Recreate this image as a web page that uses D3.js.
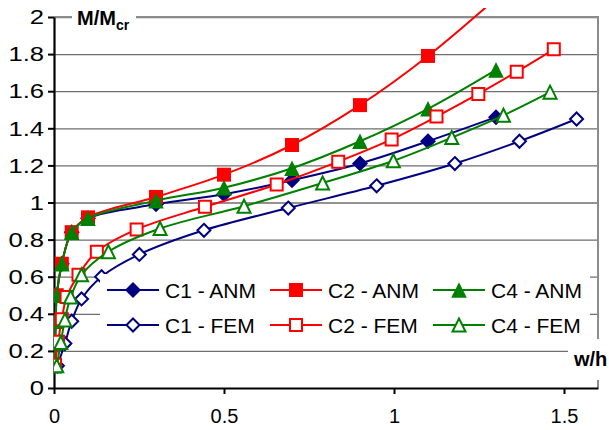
<!DOCTYPE html>
<html>
<head>
<meta charset="utf-8">
<script src="https://cdn.jsdelivr.net/npm/d3@7"></script>
<style>
  body { margin: 0; background: #fff; }
  svg { display: block; font-family: 'Liberation Sans', Arial, sans-serif; }
</style>
</head>
<body>
<svg width="609" height="430"></svg>
<script>
  // values
  var anmX = [0.001, 0.003, 0.005, 0.008, 0.023, 0.052, 0.1, 0.3, 0.5, 0.7, 0.9, 1.1, 1.3];
  var c1AnmY = [0.12, 0.24, 0.36, 0.5, 0.67, 0.84, 0.915, 0.99, 1.045, 1.12, 1.21, 1.33, 1.46];
  var c2AnmY = [0.12, 0.24, 0.36, 0.5, 0.67, 0.84, 0.92, 1.03, 1.15, 1.31, 1.525, 1.79, 2.1];
  var c4AnmY = [0.12, 0.24, 0.36, 0.5, 0.67, 0.84, 0.915, 1.01, 1.08, 1.185, 1.33, 1.505, 1.715];

  var c1FemX = [0.01, 0.032, 0.052, 0.081, 0.14, 0.251, 0.441, 0.689, 0.949, 1.179, 1.369, 1.537];
  var c1FemY = [0.12, 0.24, 0.36, 0.48, 0.6, 0.72, 0.85, 0.97, 1.09, 1.21, 1.33, 1.45];
  var c2FemX = [0.003, 0.012, 0.023, 0.037, 0.072, 0.126, 0.243, 0.444, 0.655, 0.836, 0.993, 1.125, 1.248, 1.361, 1.47];
  var c2FemY = [0.125, 0.25, 0.37, 0.49, 0.61, 0.735, 0.855, 0.977, 1.097, 1.22, 1.34, 1.463, 1.585, 1.705, 1.826];
  var c4FemX = [0.008, 0.02, 0.032, 0.049, 0.081, 0.16, 0.312, 0.559, 0.79, 0.998, 1.17, 1.322, 1.459];
  var c4FemY = [0.12, 0.245, 0.367, 0.49, 0.61, 0.735, 0.86, 0.98, 1.105, 1.225, 1.35, 1.47, 1.595];

  var xTicks = [0, 0.5, 1, 1.5];
  var xTickLabels = ['0', '0.5', '1', '1.5'];
  var yTicks = [0, 0.2, 0.4, 0.6, 0.8, 1, 1.2, 1.4, 1.6, 1.8, 2];
  var yTickLabels = ['0', '0.2', '0.4', '0.6', '0.8', '1', '1.2', '1.4', '1.6', '1.8', '2'];

(function () {
  'use strict';

  var navy = '#000080', red = '#ff0000', green = '#008000';

  var series = [
    { name: 'C1 - ANM', x: anmX, y: c1AnmY, color: navy, shape: 'diamond', filled: true },
    { name: 'C2 - ANM', x: anmX, y: c2AnmY, color: red, shape: 'square', filled: true },
    { name: 'C4 - ANM', x: anmX, y: c4AnmY, color: green, shape: 'triangle', filled: true },
    { name: 'C1 - FEM', x: c1FemX, y: c1FemY, color: navy, shape: 'diamond', filled: false },
    { name: 'C2 - FEM', x: c2FemX, y: c2FemY, color: red, shape: 'square', filled: false },
    { name: 'C4 - FEM', x: c4FemX, y: c4FemY, color: green, shape: 'triangle', filled: false }
  ];

  var svg = d3.select('svg');
  var pLeft = 54, pRight = 598, pTop = 17, pBottom = 388;

  var x = d3.scaleLinear().domain([0, 1.6]).range([pLeft, pRight]);
  var y = d3.scaleLinear().domain([0, 2]).range([pBottom, pTop]);

  // gridlines
  svg.append('g')
    .attr('transform', 'translate(' + pLeft + ',0)')
    .call(d3.axisLeft(y).tickValues(yTicks.slice(1)).tickSize(-(pRight - pLeft)).tickFormat(''))
    .call(function (g) {
      g.select('.domain').remove();
      g.selectAll('line').attr('stroke', '#6e6e6e').attr('stroke-width', 1.3);
    });

  // plot border (top, right)
  svg.append('path')
    .attr('d', 'M' + pLeft + ',' + pTop + 'H' + pRight + 'V' + pBottom)
    .attr('fill', 'none')
    .attr('stroke', '#8c8c8c')
    .attr('stroke-width', 2);

  // y axis
  svg.append('g')
    .attr('transform', 'translate(' + pLeft + ',0)')
    .call(d3.axisLeft(y).tickValues(yTicks).tickSize(6).tickSizeOuter(0).tickPadding(4)
      .tickFormat(function (d, i) { return yTickLabels[i]; }))
    .call(function (g) {
      g.select('.domain').attr('stroke', '#000').attr('stroke-width', 2.2);
      g.selectAll('line').attr('stroke', '#000').attr('stroke-width', 2);
      // labels in the picture are drawn a bit wider than the font
      g.selectAll('.tick').each(function () {
        var t = d3.select(this).select('text');
        t.attr('x', null).attr('transform', 'translate(-10,0) scale(1.22,1)');
      });
      g.selectAll('text').attr('font-size', 21).attr('fill', '#000')
        .attr('font-family', "'Liberation Sans', Arial, sans-serif");
    });

  // x axis
  svg.append('g')
    .attr('transform', 'translate(0,' + pBottom + ')')
    .call(d3.axisBottom(x).tickValues(xTicks).tickSize(6).tickSizeOuter(0).tickPadding(15)
      .tickFormat(function (d, i) { return xTickLabels[i]; }))
    .call(function (g) {
      g.select('.domain').attr('stroke', '#000').attr('stroke-width', 2.2);
      g.selectAll('line').attr('stroke', '#000').attr('stroke-width', 2);
      g.selectAll('text').attr('font-size', 20).attr('fill', '#000')
        .attr('font-family', "'Liberation Sans', Arial, sans-serif");
    });

  // excel-like markers: square, diamond (square rotated), triangle
  function shapePath(shape, r) {
    if (shape === 'square') return 'M' + (-r) + ',' + (-r) + 'H' + r + 'V' + r + 'H' + (-r) + 'Z';
    if (shape === 'diamond') return 'M0,' + (-r) + 'L' + r + ',0L0,' + r + 'L' + (-r) + ',0Z';
    return 'M0,' + (-r) + 'L' + r + ',' + r + 'H' + (-r) + 'Z';
  }
  function marker(sel, s) {
    var r;
    if (s.filled) r = s.shape === 'square' ? 7 : (s.shape === 'diamond' ? 8 : 7.8);
    else r = s.shape === 'square' ? 6 : (s.shape === 'diamond' ? 6.5 : 6.5);
    sel.attr('d', shapePath(s.shape, r))
      .attr('fill', s.filled ? s.color : '#fff')
      .attr('stroke', s.filled ? 'none' : s.color)
      .attr('stroke-width', 2);
  }

  svg.append('clipPath').attr('id', 'clip')
    .append('rect').attr('x', pLeft).attr('y', 8).attr('width', pRight - pLeft).attr('height', pBottom - 8);

  var plot = svg.append('g').attr('clip-path', 'url(#clip)');
  var line = d3.line()
    .x(function (d) { return x(d[0]); })
    .y(function (d) { return y(d[1]); })
    .curve(d3.curveCatmullRom.alpha(0.5));

  series.forEach(function (s) {
    var pts = s.x.map(function (v, i) { return [v, s.y[i]]; });
    var g = plot.append('g');
    g.append('path')
      .datum(pts)
      .attr('fill', 'none')
      .attr('stroke', s.color)
      .attr('stroke-width', 2)
      .attr('d', line);
    g.selectAll('path.m')
      .data(pts.filter(function (d) { return d[1] <= 2; }))
      .enter().append('path')
      .attr('class', 'm')
      .attr('transform', function (d) { return 'translate(' + x(d[0]) + ',' + y(d[1]) + ')'; })
      .call(marker, s);
  });

  // legend
  var legend = svg.append('g');
  legend.append('rect')
    .attr('x', 100).attr('y', 274).attr('width', 490).attr('height', 70)
    .attr('fill', '#fff');
  var colX = [107, 270, 433], rowY = [290, 325];
  series.forEach(function (s, i) {
    var lx = colX[i % 3], ly = rowY[Math.floor(i / 3)];
    var e = legend.append('g').attr('transform', 'translate(' + lx + ',' + ly + ')');
    e.append('line').attr('x1', 0).attr('x2', 52).attr('y1', 0).attr('y2', 0)
      .attr('stroke', s.color).attr('stroke-width', 2);
    e.append('path').attr('transform', 'translate(26,0)').call(marker, s);
    e.append('text').attr('x', 58).attr('y', 7.5)
      .attr('font-size', 21).attr('fill', '#000').text(s.name);
  });

  // axis titles
  svg.append('rect').attr('x', 72).attr('y', 6).attr('width', 64).attr('height', 26).attr('fill', '#fff');
  var yt = svg.append('text').attr('x', 77).attr('y', 25).attr('font-size', 20).attr('font-weight', 'bold');
  yt.append('tspan').text('M/M');
  yt.append('tspan').attr('font-size', 14).attr('dy', 5).text('cr');

  svg.append('rect').attr('x', 568).attr('y', 339).attr('width', 41).attr('height', 41).attr('fill', '#fff');
  svg.append('text').attr('x', 574).attr('y', 366).attr('font-size', 20).attr('font-weight', 'bold').text('w/h');
})();
</script>
</body>
</html>
